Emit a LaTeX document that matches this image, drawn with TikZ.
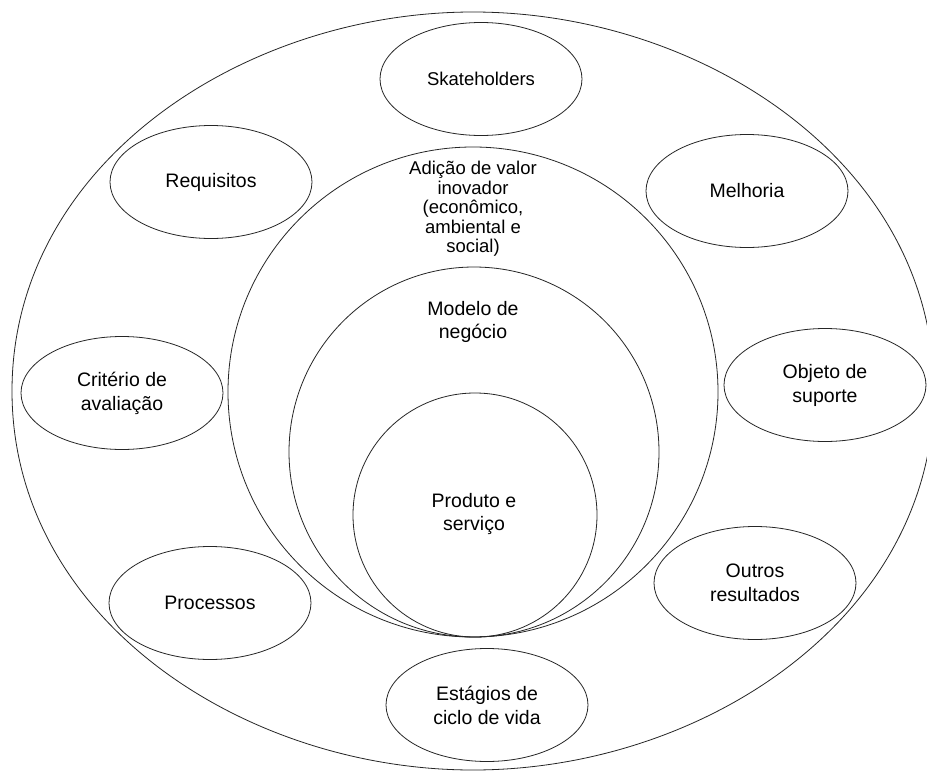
\documentclass[tikz,border=0pt]{standalone}
\usepackage{fontspec}
\setmainfont{Liberation Sans}
\usetikzlibrary{shapes.geometric}
\begin{document}
\begin{tikzpicture}[x=1pt,y=-1pt,
  ring/.style={draw=black!85,line width=0.8pt},
  item/.style={ellipse,draw=black!85,line width=0.8pt,inner sep=0pt,
    minimum width=202pt,minimum height=113pt,align=center,
    font=\fontsize{19.5}{24}\selectfont},
  caption/.style={align=center,inner sep=0pt,font=\fontsize{19.5}{23}\selectfont}]
\useasboundingbox (0,0) rectangle (927,771);
\fill[white] (0,0) rectangle (927,771);

% outer ring: an oval with slightly flattened sides (centre 473,391; half axes 461 x 379)
\draw[ring] (12,391)
  .. controls (12,164) and (243,12) .. (473,12)
  .. controls (703,12) and (934,164) .. (934,391)
  .. controls (934,618) and (703,770) .. (473,770)
  .. controls (243,770) and (12,618) .. cycle;

% nested circles, all touching at the bottom
\draw[ring] (473,392) circle [radius=245];
\draw[ring] (474,452) circle [radius=185];
\draw[ring] (475,515) circle [radius=122];

% labels of the nested circles
\node[caption,font=\fontsize{18.5}{19.5}\selectfont] (valor) at (473,209)
  {Adição de valor\\inovador\\(econômico,\\ambiental e\\social)};
\node[caption] (modelo) at (473,322) {Modelo de\\negócio};
\node[caption] (produto) at (474,514) {Produto e\\serviço};

% surrounding items
\node[item,font=\fontsize{18.5}{22}\selectfont] (stake) at (481,79) {Skateholders};
\node[item] (req) at (211,182) {Requisitos};
\node[item] (melh) at (747,191) {Melhoria};
\node[item] (crit) at (122,393) {Critério de\\avaliação};
\node[item] (obj) at (825,385) {Objeto de\\suporte};
\node[item] (proc) at (210,603) {Processos};
\node[item] (outros) at (755,583) {Outros\\resultados};
\node[item] (estag) at (487,705) {Estágios de\\ciclo de vida};
\end{tikzpicture}
\end{document}
